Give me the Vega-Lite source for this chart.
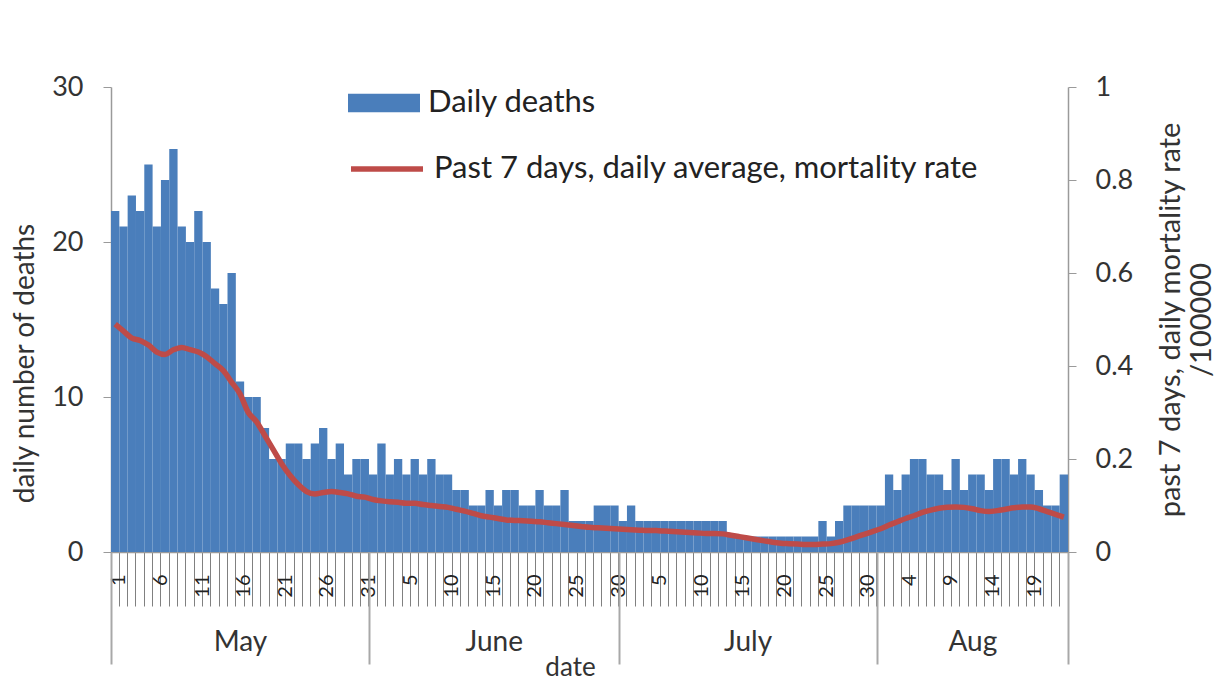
{
  "$schema": "https://vega.github.io/schema/vega-lite/v6.json",
  "width": 957,
  "height": 465,
  "autosize": {"type": "none"},
  "padding": {"left": 111, "top": 87, "right": 147, "bottom": 131},
  "background": "white",
  "config": {
    "view": {"stroke": null},
    "font": "Lato",
    "axis": {"grid": false, "domainColor": "#9a9a9a", "domainWidth": 1.5, "tickColor": "#9a9a9a", "labelColor": "#333333", "titleColor": "#333333", "titleFontWeight": "normal", "labelFont": "Lato", "titleFont": "Lato"},
    "legend": {"labelFont": "Lato"}
  },
  "datasets": {
    "daily": [
      {"date": "2020-05-01", "deaths": 22, "rate": 0.49},
      {"date": "2020-05-02", "deaths": 21, "rate": 0.475},
      {"date": "2020-05-03", "deaths": 23, "rate": 0.46},
      {"date": "2020-05-04", "deaths": 22, "rate": 0.455},
      {"date": "2020-05-05", "deaths": 25, "rate": 0.445},
      {"date": "2020-05-06", "deaths": 21, "rate": 0.43},
      {"date": "2020-05-07", "deaths": 24, "rate": 0.425},
      {"date": "2020-05-08", "deaths": 26, "rate": 0.435},
      {"date": "2020-05-09", "deaths": 21, "rate": 0.44},
      {"date": "2020-05-10", "deaths": 20, "rate": 0.435},
      {"date": "2020-05-11", "deaths": 22, "rate": 0.43},
      {"date": "2020-05-12", "deaths": 20, "rate": 0.42},
      {"date": "2020-05-13", "deaths": 17, "rate": 0.405},
      {"date": "2020-05-14", "deaths": 16, "rate": 0.39},
      {"date": "2020-05-15", "deaths": 18, "rate": 0.365},
      {"date": "2020-05-16", "deaths": 11, "rate": 0.34},
      {"date": "2020-05-17", "deaths": 10, "rate": 0.3},
      {"date": "2020-05-18", "deaths": 10, "rate": 0.28},
      {"date": "2020-05-19", "deaths": 8, "rate": 0.25},
      {"date": "2020-05-20", "deaths": 6, "rate": 0.22},
      {"date": "2020-05-21", "deaths": 6, "rate": 0.19},
      {"date": "2020-05-22", "deaths": 7, "rate": 0.165},
      {"date": "2020-05-23", "deaths": 7, "rate": 0.145},
      {"date": "2020-05-24", "deaths": 6, "rate": 0.13},
      {"date": "2020-05-25", "deaths": 7, "rate": 0.125},
      {"date": "2020-05-26", "deaths": 8, "rate": 0.128},
      {"date": "2020-05-27", "deaths": 6, "rate": 0.13},
      {"date": "2020-05-28", "deaths": 7, "rate": 0.128},
      {"date": "2020-05-29", "deaths": 5, "rate": 0.125},
      {"date": "2020-05-30", "deaths": 6, "rate": 0.12},
      {"date": "2020-05-31", "deaths": 6, "rate": 0.118},
      {"date": "2020-06-01", "deaths": 5, "rate": 0.113},
      {"date": "2020-06-02", "deaths": 7, "rate": 0.11},
      {"date": "2020-06-03", "deaths": 5, "rate": 0.108},
      {"date": "2020-06-04", "deaths": 6, "rate": 0.107},
      {"date": "2020-06-05", "deaths": 5, "rate": 0.105},
      {"date": "2020-06-06", "deaths": 6, "rate": 0.105},
      {"date": "2020-06-07", "deaths": 5, "rate": 0.102},
      {"date": "2020-06-08", "deaths": 6, "rate": 0.1},
      {"date": "2020-06-09", "deaths": 5, "rate": 0.098},
      {"date": "2020-06-10", "deaths": 5, "rate": 0.096},
      {"date": "2020-06-11", "deaths": 4, "rate": 0.092},
      {"date": "2020-06-12", "deaths": 4, "rate": 0.088},
      {"date": "2020-06-13", "deaths": 3, "rate": 0.083},
      {"date": "2020-06-14", "deaths": 3, "rate": 0.078},
      {"date": "2020-06-15", "deaths": 4, "rate": 0.075},
      {"date": "2020-06-16", "deaths": 3, "rate": 0.072},
      {"date": "2020-06-17", "deaths": 4, "rate": 0.069},
      {"date": "2020-06-18", "deaths": 4, "rate": 0.068},
      {"date": "2020-06-19", "deaths": 3, "rate": 0.067},
      {"date": "2020-06-20", "deaths": 3, "rate": 0.066},
      {"date": "2020-06-21", "deaths": 4, "rate": 0.065},
      {"date": "2020-06-22", "deaths": 3, "rate": 0.063},
      {"date": "2020-06-23", "deaths": 3, "rate": 0.061},
      {"date": "2020-06-24", "deaths": 4, "rate": 0.059},
      {"date": "2020-06-25", "deaths": 2, "rate": 0.057},
      {"date": "2020-06-26", "deaths": 2, "rate": 0.055},
      {"date": "2020-06-27", "deaths": 2, "rate": 0.053},
      {"date": "2020-06-28", "deaths": 3, "rate": 0.052},
      {"date": "2020-06-29", "deaths": 3, "rate": 0.051},
      {"date": "2020-06-30", "deaths": 3, "rate": 0.05},
      {"date": "2020-07-01", "deaths": 2, "rate": 0.049},
      {"date": "2020-07-02", "deaths": 3, "rate": 0.048},
      {"date": "2020-07-03", "deaths": 2, "rate": 0.047},
      {"date": "2020-07-04", "deaths": 2, "rate": 0.046},
      {"date": "2020-07-05", "deaths": 2, "rate": 0.046},
      {"date": "2020-07-06", "deaths": 2, "rate": 0.045},
      {"date": "2020-07-07", "deaths": 2, "rate": 0.044},
      {"date": "2020-07-08", "deaths": 2, "rate": 0.043},
      {"date": "2020-07-09", "deaths": 2, "rate": 0.042},
      {"date": "2020-07-10", "deaths": 2, "rate": 0.041},
      {"date": "2020-07-11", "deaths": 2, "rate": 0.04},
      {"date": "2020-07-12", "deaths": 2, "rate": 0.04},
      {"date": "2020-07-13", "deaths": 2, "rate": 0.039},
      {"date": "2020-07-14", "deaths": 1, "rate": 0.036},
      {"date": "2020-07-15", "deaths": 1, "rate": 0.033},
      {"date": "2020-07-16", "deaths": 1, "rate": 0.03},
      {"date": "2020-07-17", "deaths": 1, "rate": 0.027},
      {"date": "2020-07-18", "deaths": 1, "rate": 0.024},
      {"date": "2020-07-19", "deaths": 1, "rate": 0.021},
      {"date": "2020-07-20", "deaths": 1, "rate": 0.019},
      {"date": "2020-07-21", "deaths": 1, "rate": 0.018},
      {"date": "2020-07-22", "deaths": 1, "rate": 0.017},
      {"date": "2020-07-23", "deaths": 1, "rate": 0.016},
      {"date": "2020-07-24", "deaths": 1, "rate": 0.016},
      {"date": "2020-07-25", "deaths": 2, "rate": 0.017},
      {"date": "2020-07-26", "deaths": 1, "rate": 0.018},
      {"date": "2020-07-27", "deaths": 2, "rate": 0.021},
      {"date": "2020-07-28", "deaths": 3, "rate": 0.026},
      {"date": "2020-07-29", "deaths": 3, "rate": 0.032},
      {"date": "2020-07-30", "deaths": 3, "rate": 0.038},
      {"date": "2020-07-31", "deaths": 3, "rate": 0.044},
      {"date": "2020-08-01", "deaths": 3, "rate": 0.05},
      {"date": "2020-08-02", "deaths": 5, "rate": 0.058},
      {"date": "2020-08-03", "deaths": 4, "rate": 0.065},
      {"date": "2020-08-04", "deaths": 5, "rate": 0.072},
      {"date": "2020-08-05", "deaths": 6, "rate": 0.078},
      {"date": "2020-08-06", "deaths": 6, "rate": 0.085},
      {"date": "2020-08-07", "deaths": 5, "rate": 0.09},
      {"date": "2020-08-08", "deaths": 5, "rate": 0.094},
      {"date": "2020-08-09", "deaths": 4, "rate": 0.096},
      {"date": "2020-08-10", "deaths": 6, "rate": 0.097},
      {"date": "2020-08-11", "deaths": 4, "rate": 0.096},
      {"date": "2020-08-12", "deaths": 5, "rate": 0.093},
      {"date": "2020-08-13", "deaths": 5, "rate": 0.089},
      {"date": "2020-08-14", "deaths": 4, "rate": 0.087},
      {"date": "2020-08-15", "deaths": 6, "rate": 0.089},
      {"date": "2020-08-16", "deaths": 6, "rate": 0.092},
      {"date": "2020-08-17", "deaths": 5, "rate": 0.095},
      {"date": "2020-08-18", "deaths": 6, "rate": 0.097},
      {"date": "2020-08-19", "deaths": 5, "rate": 0.097},
      {"date": "2020-08-20", "deaths": 4, "rate": 0.093},
      {"date": "2020-08-21", "deaths": 3, "rate": 0.087},
      {"date": "2020-08-22", "deaths": 3, "rate": 0.081},
      {"date": "2020-08-23", "deaths": 5, "rate": 0.075}
    ],
    "months": [
      {"start": "2020-05-01"},
      {"start": "2020-06-01"},
      {"start": "2020-07-01"},
      {"start": "2020-08-01"}
    ]
  },
  "layer": [
    {
      "data": {"name": "daily"},
      "layer": [
        {
          "mark": {"type": "bar"},
          "encoding": {
            "x": {
              "field": "date", "type": "ordinal",
              "scale": {"paddingInner": 0, "paddingOuter": 0},
              "axis": {
                "title": null, "bandPosition": 0, "tickSize": 54, "tickColor": "#808080", "tickWidth": 1,
                "labelAngle": 270, "labelAlign": "right", "labelBaseline": "middle",
                "labelPadding": -32, "labelOffset": 4.16, "labelFontSize": 20, "labelColor": "#222222",
                "labelOverlap": false, "labelBound": false, "labelFlush": false,
                "labelExpr": "round(datum.index*114)%5==0 ? toString(toNumber(substring(datum.value,8,10))) : ''"
              }
            },
            "y": {
              "field": "deaths", "type": "quantitative",
              "scale": {"domain": [0, 30]},
              "axis": {"orient": "left", "values": [0, 10, 20, 30], "title": "daily number of deaths", "titleFontSize": 28, "labelFontSize": 27, "labelPadding": 20, "tickSize": 8, "titleX": -72, "titleY": 276, "titleBaseline": "bottom", "titleAngle": 270}
            },
            "fill": {
              "datum": "Daily deaths",
              "scale": {"range": ["#4A7EBB"]},
              "legend": {"orient": "none", "legendX": 237, "legendY": -20, "title": null, "padding": 0, "symbolType": "M-1,-0.26H1V0.26H-1Z", "symbolSize": 5184, "symbolStrokeWidth": 0, "labelFontSize": 31, "labelColor": "#222222", "labelOffset": 8, "labelLimit": 0}
            }
          }
        },
        {
          "mark": {"type": "line", "strokeWidth": 5.5, "interpolate": "monotone"},
          "encoding": {
            "x": {"field": "date", "type": "ordinal"},
            "y": {
              "field": "rate", "type": "quantitative",
              "scale": {"domain": [0, 1]},
              "axis": {"orient": "right", "values": [0, 0.2, 0.4, 0.6, 0.8, 1], "format": "~g", "title": ["past 7 days, daily mortality rate", "/100000"], "titleAngle": 270, "titleBaseline": "top", "titleLineHeight": 31, "titleFontSize": 29, "titleX": 88, "labelFontSize": 27, "labelPadding": 19, "tickSize": 8}
            },
            "stroke": {
              "datum": "Past 7 days, daily average, mortality rate",
              "scale": {"range": ["#BE4B48"]},
              "legend": {"orient": "none", "legendX": 237, "legendY": 43, "title": null, "padding": 0, "symbolType": "stroke", "symbolSize": 5184, "symbolStrokeWidth": 5.5, "labelFontSize": 31, "labelColor": "#222222", "labelOffset": 8, "labelLimit": 0}
            }
          }
        }
      ],
      "resolve": {"scale": {"y": "independent"}}
    },
    {
      "data": {"name": "months"},
      "mark": {"type": "point", "opacity": 0},
      "encoding": {
        "x": {
          "field": "start", "type": "temporal",
          "scale": {"type": "utc", "domain": [1588291200000, 1598227200000]},
          "axis": {
            "orient": "bottom", "domain": false,
            "values": [1588291200000, 1589630400000, 1590969600000, 1592265600000, 1593561600000, 1594900800000, 1596240000000, 1597233600000, 1598227200000],
            "tickSize": 112, "tickColor": "#a8a8a8", "tickWidth": 2,
            "tickOpacity": {"condition": {"test": "utcdate(datum.value)!=1 && utcdate(datum.value)!=24", "value": 0}, "value": 1},
            "labelExpr": "utcdate(datum.value)==1 || utcdate(datum.value)==24 ? '' : ['May','June','July','Aug'][utcmonth(datum.value)-4]",
            "labelAngle": 0, "labelAlign": "center", "labelBaseline": "top", "labelPadding": -36,
            "labelFontSize": 28, "labelColor": "#333333", "labelOverlap": false, "labelFlush": false, "labelBound": false,
            "title": "date", "titleFontSize": 26, "titleX": 459, "titleY": 115, "titleBaseline": "middle", "titleAlign": "center"
          }
        }
      }
    }
  ],
  "resolve": {"scale": {"x": "independent", "y": "independent"}}
}
